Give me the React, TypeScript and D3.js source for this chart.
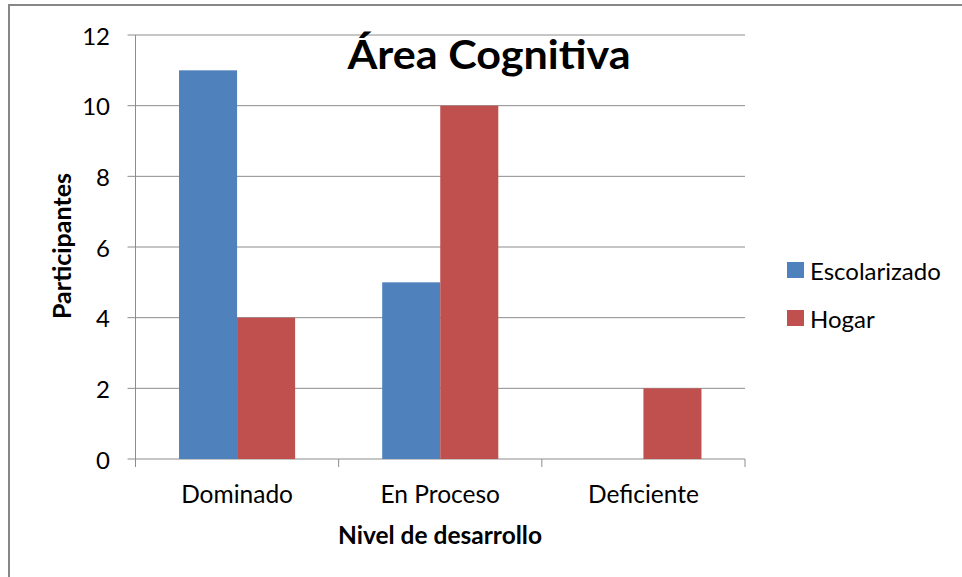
import React from "react";
import * as d3 from "d3";

const categories = ["Dominado", "En Proceso", "Deficiente"];
const seriesNames = ["Escolarizado", "Hogar"];
const escolarizado = [11, 5, 0];
const hogar = [4, 10, 2];
const yTicks = [0, 2, 4, 6, 8, 10, 12];
const colors = ["#4F81BD", "#C0504D"];

const W = 962;
const H = 577;
const FONT = "Lato, 'Open Sans', sans-serif";

export default function App() {
  const plot = { left: 135.5, right: 745, top: 35, bottom: 459 };
  const x0 = d3.scaleBand().domain(categories).range([plot.left, plot.right]).paddingInner(0).paddingOuter(0);
  const y = d3.scaleLinear().domain([0, 12]).range([plot.bottom, plot.top]);
  const bw = x0.bandwidth();
  const barW = bw / 3.5;
  const x1 = d3.scaleBand().domain(seriesNames).range([0, barW * 2]);
  const values = [escolarizado, hogar];
  const gridColor = "#8c8c8c";

  return (
    <svg width={W} height={H} style={{ position: "absolute", left: 0, top: 0, background: "#fff" }}>
      <rect x={0} y={0} width={W} height={H} fill="#fff" />
      <rect x={9} y={5} width={W + 20} height={H + 20} fill="none" stroke="#878787" strokeWidth={2} />
      {yTicks.map((t) => (
        <g key={t}>
          <line x1={plot.left - 8} x2={plot.right} y1={y(t)} y2={y(t)} stroke={gridColor} strokeWidth={1} />
          <text x={110} y={y(t)} textAnchor="end" dominantBaseline="central" fontFamily={FONT} fontSize={24} fill="#000">
            {t}
          </text>
        </g>
      ))}
      <line x1={plot.left} x2={plot.left} y1={plot.top} y2={plot.bottom} stroke={gridColor} strokeWidth={1} />
      {[0, 1, 2, 3].map((i) => {
        const xx = plot.left + i * bw;
        return <line key={i} x1={xx} x2={xx} y1={plot.bottom} y2={plot.bottom + 8} stroke={gridColor} strokeWidth={1} />;
      })}
      {categories.map((c, ci) => (
        <g key={c}>
          {seriesNames.map((s, si) => {
            const v = values[si][ci];
            if (v === 0) return null;
            const bx = (x0(c) as number) + (bw - barW * 2) / 2 + (x1(s) as number);
            return <rect key={s} x={bx} y={y(v)} width={barW} height={y(0) - y(v)} fill={colors[si]} />;
          })}
          <text x={(x0(c) as number) + bw / 2} y={493} textAnchor="middle" dominantBaseline="central" fontFamily={FONT} fontSize={24.5} fill="#000">
            {c}
          </text>
        </g>
      ))}
      <text x={440} y={534} textAnchor="middle" dominantBaseline="central" fontFamily={FONT} fontSize={24.5} fontWeight="bold" fill="#000">
        Nivel de desarrollo
      </text>
      <text transform={`translate(61,246) rotate(-90)`} textAnchor="middle" dominantBaseline="central" fontFamily={FONT} fontSize={25} fontWeight="bold" fill="#000">
        Participantes
      </text>
      <text x={489} y={69} textAnchor="middle" fontFamily={FONT} fontSize={40} fontWeight="bold" fill="#000" textLength={283} lengthAdjust="spacingAndGlyphs">
        Área Cognitiva
      </text>
      {seriesNames.map((s, i) => (
        <g key={s}>
          <rect x={787} y={262 + i * 48} width={17} height={16} fill={colors[i]} />
          <text x={810} y={270 + i * 48} dominantBaseline="central" fontFamily={FONT} fontSize={24} fill="#000">
            {s}
          </text>
        </g>
      ))}
    </svg>
  );
}
